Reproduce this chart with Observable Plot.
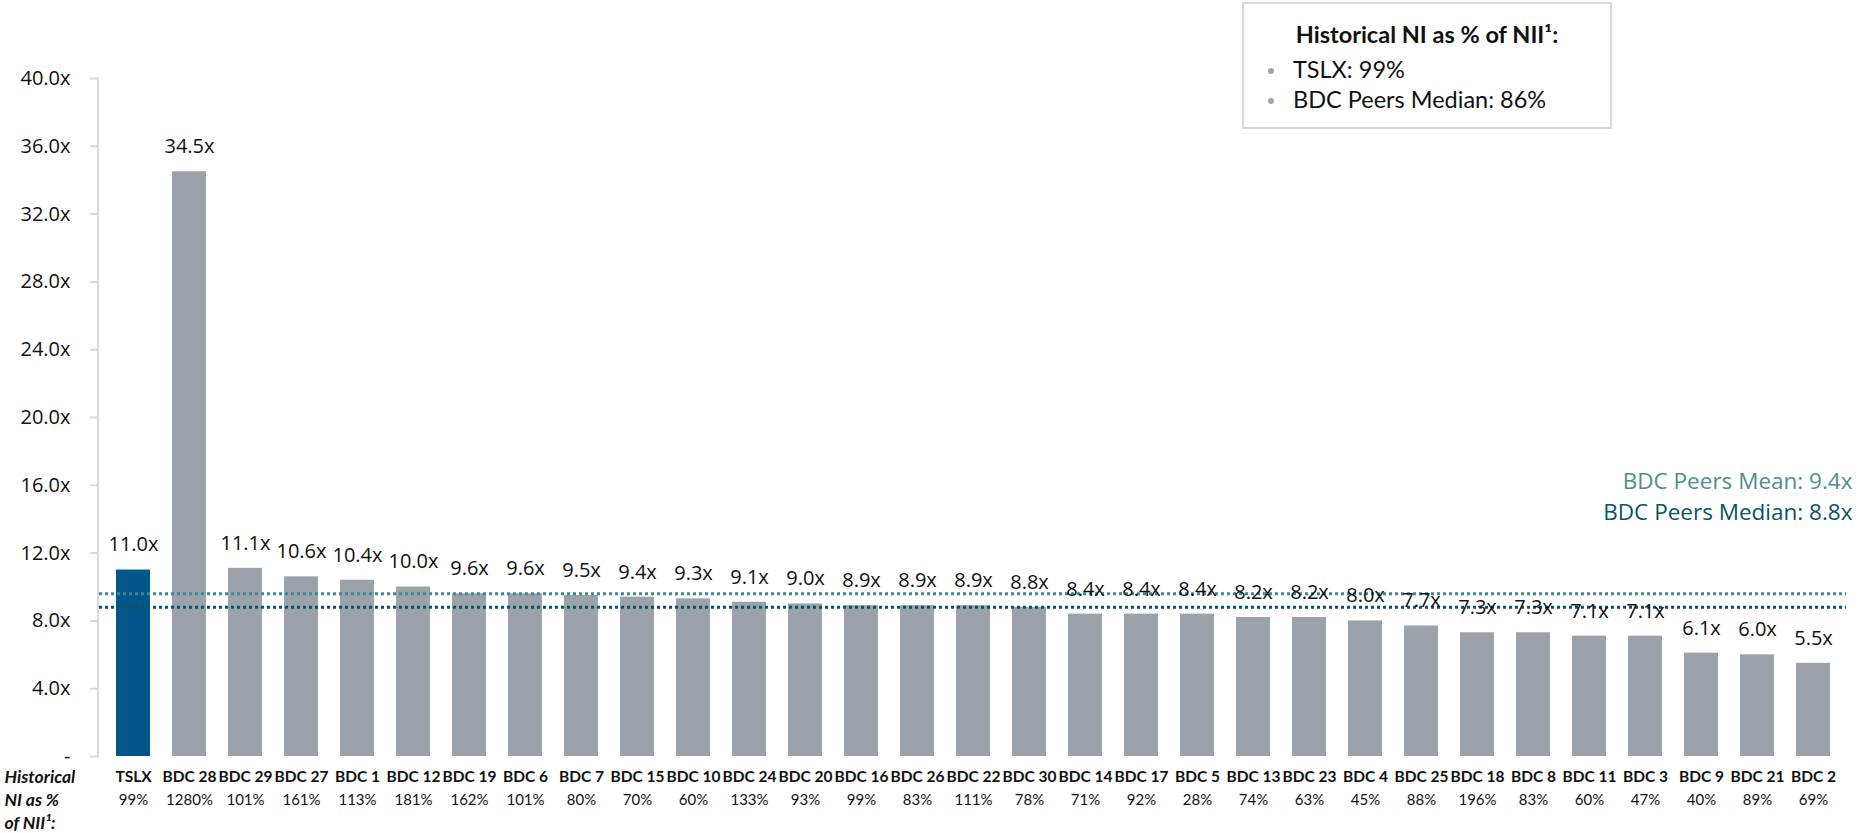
<!DOCTYPE html>
<html>
<head>
<meta charset="utf-8">
<script src="https://cdn.jsdelivr.net/npm/d3@7"></script>
<script src="https://cdn.jsdelivr.net/npm/@observablehq/plot@0.6"></script>
<style>
  html, body { margin: 0; padding: 0; background: #fff; }
  #wrap { position: relative; width: 1859px; height: 833px; }
  #legend { position: absolute; left: 1242px; top: 2px; width: 366px; height: 123px;
    border: 2px solid #d8d8d8; background: #fff; font-family: Lato, sans-serif; color: #111; }
  #legend .title { position: absolute; left: 0; right: 0; top: 16px; text-align: center; font-weight: bold; font-size: 23.5px; }
  #legend .item { position: absolute; left: 49px; font-size: 23.5px; }
  #legend .item::before { content: ""; position: absolute; left: -25px; top: 13px; width: 6px; height: 6px; border-radius: 50%; background: #a3a3a3; }
</style>
</head>
<body>
<div id="wrap"></div>
<script>
// ---- data ----
const names = ["TSLX","BDC 28","BDC 29","BDC 27","BDC 1","BDC 12","BDC 19","BDC 6","BDC 7","BDC 15","BDC 10","BDC 24","BDC 20","BDC 16","BDC 26","BDC 22","BDC 30","BDC 14","BDC 17","BDC 5","BDC 13","BDC 23","BDC 4","BDC 25","BDC 18","BDC 8","BDC 11","BDC 3","BDC 9","BDC 21","BDC 2"];
const multiples = [11.0,34.5,11.1,10.6,10.4,10.0,9.6,9.6,9.5,9.4,9.3,9.1,9.0,8.9,8.9,8.9,8.8,8.4,8.4,8.4,8.2,8.2,8.0,7.7,7.3,7.3,7.1,7.1,6.1,6.0,5.5];
const niPct = ["99%","1280%","101%","161%","113%","181%","162%","101%","80%","70%","60%","133%","93%","99%","83%","111%","78%","71%","92%","28%","74%","63%","45%","88%","196%","83%","60%","47%","40%","89%","69%"];
const yTicks = [0,4,8,12,16,20,24,28,32,36,40];
const peersMean = 9.4;
const peersMedian = 8.8;
const meanLineLevel = 9.6; // where the mean line sits in the picture
const legendTitle = "Historical NI as % of NII¹:";
const legendItems = ["TSLX: 99%", "BDC Peers Median: 86%"];
const rowLabel = "Historical\nNI as %\nof NII¹:";

const data = names.map((n, i) => ({name: n, value: multiples[i], pct: niPct[i]}));
const fmtX = v => v.toFixed(1) + "x";

// vertical axis line along the left edge of the frame
const axisLine = (index, scales, values, dims) => {
  const y = scales.y;
  const g = d3.create("svg:line")
    .attr("x1", dims.marginLeft - 1).attr("x2", dims.marginLeft - 1)
    .attr("y1", y(40)).attr("y2", y(0))
    .attr("stroke", "#d9d9d9").attr("stroke-width", 2);
  return g.node();
};

const chart = Plot.plot({
  width: 1859,
  height: 833,
  marginLeft: 99,
  marginRight: 13,
  marginTop: 78,
  marginBottom: 77,
  style: {fontFamily: "'Open Sans', sans-serif", background: "#fff", color: "#111"},
  x: {domain: names, paddingInner: 0.4, paddingOuter: 0.2, axis: null},
  y: {domain: [0, 40], axis: null},
  marks: [
    axisLine,
    Plot.axisY({ticks: yTicks, tickFormat: d => d === 0 ? "-" : fmtX(d), tickSize: 9, tickPadding: 20,
      fontSize: 20, stroke: "#d9d9d9", strokeWidth: 2, fill: "#111", label: null}),
    Plot.barY(data, {x: "name", y: "value", fill: d => d.name === "TSLX" ? "#02568a" : "#9ba2aa"}),
    Plot.ruleY([meanLineLevel], {stroke: "#3d8a8d", strokeWidth: 3, strokeDasharray: "3,3"}),
    Plot.ruleY([peersMedian], {stroke: "#0b5561", strokeWidth: 3, strokeDasharray: "3,3"}),
    Plot.text(data, {x: "name", y: "value", text: d => fmtX(d.value), dy: -25, fontSize: 20, fill: "#111"}),
    Plot.text(data, {x: "name", text: "name", frameAnchor: "bottom", lineAnchor: "middle", dy: 21,
      fontFamily: "Lato, sans-serif", fontWeight: "bold", fontSize: 15.5, fill: "#111"}),
    Plot.text(data, {x: "name", text: "pct", frameAnchor: "bottom", lineAnchor: "middle", dy: 44,
      fontFamily: "Lato, sans-serif", fontSize: 15, fill: "#111"}),
    Plot.text([rowLabel], {frameAnchor: "bottom-left", lineAnchor: "middle", dx: -95, dy: 42, textAnchor: "start",
      lineHeight: 1.3, fontFamily: "Lato, sans-serif", fontWeight: "bold", fontStyle: "italic", fontSize: 17.5, fill: "#111"}),
    Plot.text([`BDC Peers Mean: ${fmtX(peersMean)}`], {y: [peersMean], frameAnchor: "right", dx: 6, dy: -115,
      textAnchor: "end", fontSize: 22.5, fill: "#4f8e8f"}),
    Plot.text([`BDC Peers Median: ${fmtX(peersMedian)}`], {y: [peersMedian], frameAnchor: "right", dx: 6, dy: -95,
      textAnchor: "end", fontSize: 22.5, fill: "#0b5561"})
  ]
});

const wrap = document.getElementById("wrap");
wrap.appendChild(chart);

const legend = document.createElement("div");
legend.id = "legend";
const t = document.createElement("div");
t.className = "title";
t.textContent = legendTitle;
legend.appendChild(t);
legendItems.forEach((s, i) => {
  const it = document.createElement("div");
  it.className = "item";
  it.style.top = (51 + i * 30) + "px";
  it.textContent = s;
  legend.appendChild(it);
});
wrap.appendChild(legend);
</script>
</body>
</html>
